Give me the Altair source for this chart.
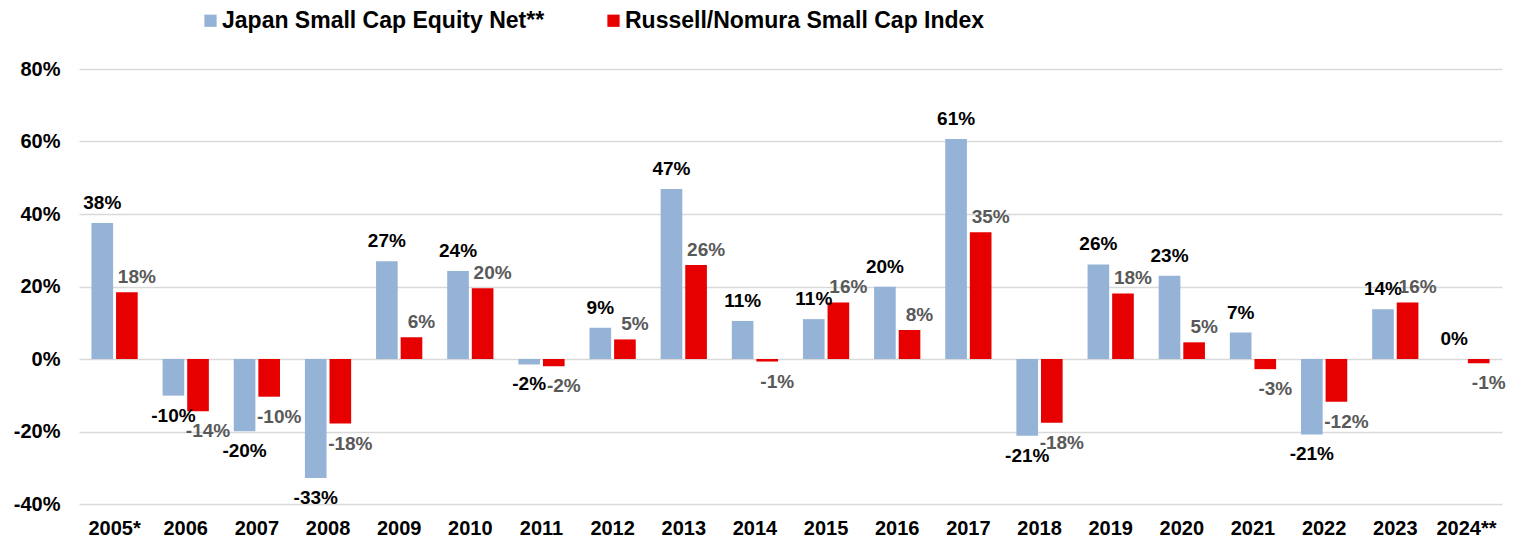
import altair as alt
import pandas as pd

years = ["2005*", "2006", "2007", "2008", "2009", "2010", "2011", "2012", "2013", "2014",
         "2015", "2016", "2017", "2018", "2019", "2020", "2021", "2022", "2023", "2024**"]
series = ["Japan Small Cap Equity Net**", "Russell/Nomura Small Cap Index"]

japan = [37.5, -10.1, -19.9, -32.8, 27.0, 24.3, -1.5, 8.6, 46.9, 10.5,
         11.0, 19.9, 60.7, -21.2, 26.1, 23.0, 7.3, -20.8, 13.7, 0.0]
russell = [18.4, -14.4, -10.4, -17.8, 6.0, 19.5, -2.0, 5.4, 25.9, -0.7,
           15.6, 8.0, 35.0, -17.6, 18.1, 4.6, -2.8, -11.8, 15.6, -1.2]
japan_labels = ["38%", "-10%", "-20%", "-33%", "27%", "24%", "-2%", "9%", "47%", "11%",
                "11%", "20%", "61%", "-21%", "26%", "23%", "7%", "-21%", "14%", "0%"]
russell_labels = ["18%", "-14%", "-10%", "-18%", "6%", "20%", "-2%", "5%", "26%", "-1%",
                  "16%", "8%", "35%", "-18%", "18%", "5%", "-3%", "-12%", "16%", "-1%"]

rows = []
for i, y in enumerate(years):
    rows.append({"year": y, "series": series[0], "value": japan[i], "label": japan_labels[i]})
    rows.append({"year": y, "series": series[1], "value": russell[i], "label": russell_labels[i]})
df = pd.DataFrame(rows)

FONT = "Liberation Sans"

x_enc = alt.X("year:N", sort=years, title=None,
              scale=alt.Scale(paddingInner=0.35, paddingOuter=0.175),
              axis=alt.Axis(labelAngle=0, domain=False, ticks=False, labelPadding=14,
                            labelFontSize=20, labelFont=FONT, labelFontWeight="bold",
                            labelColor="#000000", grid=False))
xoff_enc = alt.XOffset("series:N", sort=series, scale=alt.Scale(paddingInner=0.12))
y_enc = alt.Y("value:Q", title=None,
              scale=alt.Scale(domain=[-40, 80], nice=False),
              axis=alt.Axis(values=[-40, -20, 0, 20, 40, 60, 80],
                            labelExpr="datum.value + '%'",
                            domain=False, ticks=False, labelPadding=19,
                            labelFontSize=20, labelFont=FONT, labelFontWeight="bold",
                            labelColor="#000000", grid=True, gridColor="#d9d9d9",
                            gridWidth=1.5))

base = alt.Chart(df)

bars = base.mark_bar().encode(
    x=x_enc,
    xOffset=xoff_enc,
    y=y_enc,
    color=alt.Color("series:N", sort=series,
                    scale=alt.Scale(domain=series, range=["#95B3D7", "#E60000"]),
                    legend=alt.Legend(orient="none", direction="horizontal",
                                      legendX=120, legendY=-60, title=None,
                                      symbolType="square", symbolSize=150,
                                      symbolStrokeWidth=0,
                                      labelFontSize=23, labelFont=FONT,
                                      labelFontWeight="bold", labelColor="#000000",
                                      columnPadding=57, labelOffset=0,
                                      labelLimit=600)),
)

def labels(ser, positive, color, dx):
    cond = "datum.value >= 0" if positive else "datum.value < 0"
    return base.transform_filter(f"datum.series == '{ser}'").transform_filter(cond).mark_text(
        font=FONT, fontSize=19, fontWeight="bold", color=color,
        baseline="bottom" if positive else "top",
        dy=(-10 if ser == series[0] else -5) if positive else 11,
        dx=dx,
    ).encode(x=x_enc, xOffset=xoff_enc, y=y_enc, text="label:N")

chart = alt.layer(
    bars,
    labels(series[0], True, "#000000", 0),
    labels(series[0], False, "#000000", 0),
    labels(series[1], True, "#595959", 10),
    labels(series[1], False, "#595959", 10),
).properties(
    width=1423, height=435,
    autosize=alt.AutoSizeParams(type="none"),
    padding={"left": 71, "top": 61, "right": 17, "bottom": 35},
).configure_view(stroke=None)

chart.save("out.html", embed_options={"renderer": "svg", "actions": False})
